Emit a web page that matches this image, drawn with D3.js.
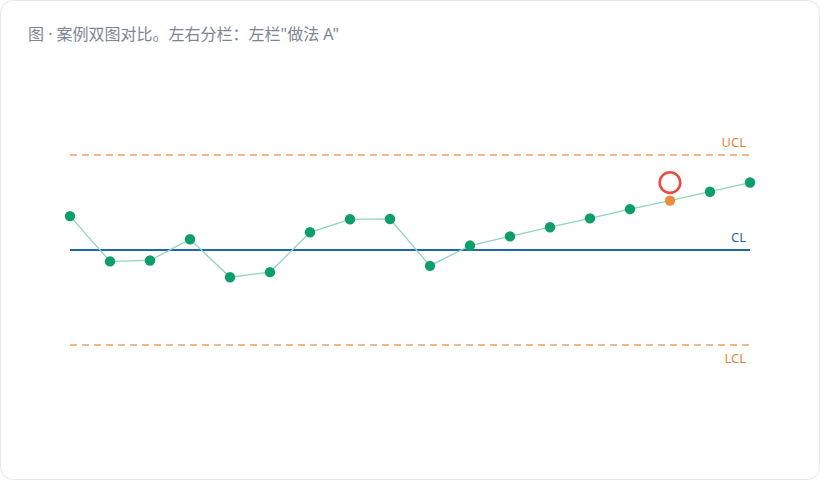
<!DOCTYPE html>
<html>
<head>
<meta charset="utf-8">
<script src="https://cdn.jsdelivr.net/npm/d3@7"></script>
<style>
  html, body { margin: 0; padding: 0; background: #ffffff; }
  svg { display: block; font-family: "Noto Sans", "Noto Sans CJK SC", sans-serif; }
</style>
</head>
<body>
<svg id="chart" width="820" height="480"></svg>
<script>
let samples = d3.range(1, 19);
let values = [11.07, 9.64, 9.67, 10.34, 9.14, 9.30, 10.56, 10.97, 10.98,
              9.50, 10.14, 10.43, 10.72, 11.00, 11.29, 11.56, 11.84, 12.13];
let flagged = [16];
let centerLine = 10;
let upperLimit = 13;
let lowerLimit = 7;
let limitLabels = ["UCL", "CL", "LCL"];
let title = '图 · 案例双图对比。左右分栏：左栏"做法 A"';

function drawChart() {
    let width = 820, height = 480;
    let svg = d3.select("#chart");

    svg.append("rect")
        .attr("x", 0.5).attr("y", 0.5)
        .attr("width", width - 1).attr("height", height - 1)
        .attr("rx", 12)
        .attr("fill", "#fff")
        .attr("stroke", "#e3e7ee");

    svg.append("text")
        .attr("x", 28).attr("y", 40)
        .attr("font-size", 16)
        .attr("fill", "#7b8593")
        .text(title);

    let x = d3.scaleLinear().domain([1, 18]).range([70, 750]);
    let y = d3.scaleLinear().domain([lowerLimit, upperLimit]).range([345, 155]);

    // control limits
    let limits = [
        {name: limitLabels[0], v: upperLimit, color: "#f0a064", text: "#e8843c", dash: "7,5", w: 1.6},
        {name: limitLabels[1], v: centerLine, color: "#1f66ad", text: "#1f66ad", dash: null, w: 2},
        {name: limitLabels[2], v: lowerLimit, color: "#f0a064", text: "#e8843c", dash: "7,5", w: 1.6}
    ];
    limits.forEach(function (l, i) {
        svg.append("line")
            .attr("x1", x(1)).attr("x2", x(18))
            .attr("y1", y(l.v)).attr("y2", y(l.v))
            .attr("stroke", l.color)
            .attr("stroke-width", l.w)
            .attr("stroke-dasharray", l.dash);
        svg.append("text")
            .attr("x", x(18) - 4)
            .attr("y", i === 2 ? y(l.v) + 18 : y(l.v) - 8)
            .attr("text-anchor", "end")
            .attr("font-size", 13)
            .attr("fill", l.text)
            .text(l.name);
    });

    let line = d3.line()
        .x(function (d, i) { return x(samples[i]); })
        .y(function (d) { return y(d); });
    svg.append("path")
        .datum(values)
        .attr("d", line)
        .attr("fill", "none")
        .attr("stroke", "#8fd5b9")
        .attr("stroke-width", 1.3);

    svg.selectAll("circle.pt").data(values)
        .enter().append("circle")
        .attr("class", "pt")
        .attr("cx", function (d, i) { return x(samples[i]); })
        .attr("cy", function (d) { return y(d); })
        .attr("r", 5.2)
        .attr("fill", function (d, i) {
            return flagged.indexOf(samples[i]) >= 0 ? "#ec8a3e" : "#0d9e6a";
        });

    // ring over flagged samples
    flagged.forEach(function (s) {
        svg.append("circle")
            .attr("cx", x(s))
            .attr("cy", y(values[s - 1]) - 18)
            .attr("r", 10.3)
            .attr("fill", "none")
            .attr("stroke", "#e84c3d")
            .attr("stroke-width", 2.6);
    });
}

drawChart();
</script>
</body>
</html>
